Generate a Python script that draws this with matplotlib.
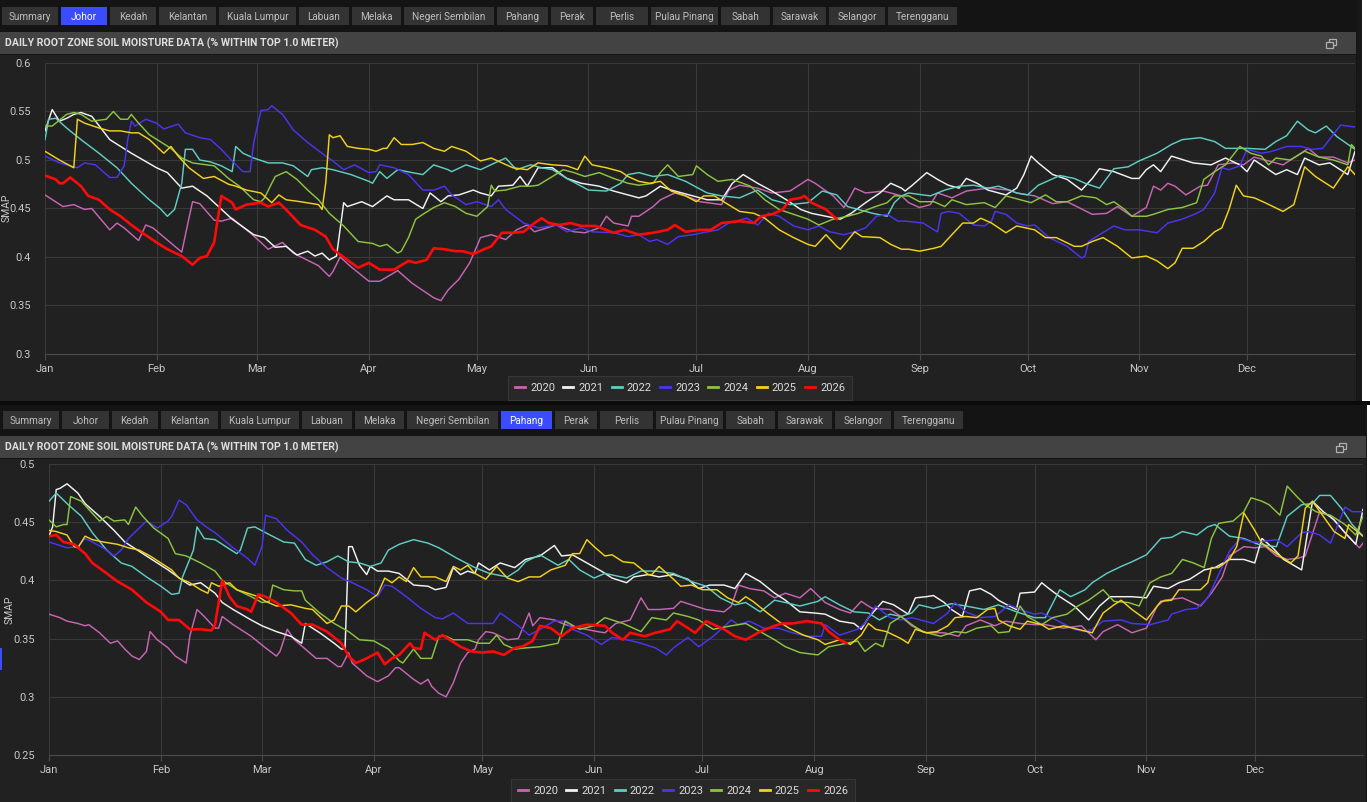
import matplotlib
matplotlib.use("Agg")
import matplotlib.pyplot as plt
from matplotlib.patches import Rectangle
from matplotlib.lines import Line2D

W, H, DPI = 1370, 802, 100

TITLE = "DAILY ROOT ZONE SOIL MOISTURE DATA (% WITHIN TOP 1.0 METER)"
TABS = ["Summary", "Johor", "Kedah", "Kelantan", "Kuala Lumpur", "Labuan", "Melaka",
        "Negeri Sembilan", "Pahang", "Perak", "Perlis", "Pulau Pinang", "Sabah",
        "Sarawak", "Selangor", "Terengganu"]
TAB_WIDTHS = [56, 46, 46, 57, 77, 50, 49, 90, 51, 42, 52, 67, 49, 53, 56, 69]

MONTHS = ["Jan", "Feb", "Mar", "Apr", "May", "Jun", "Jul", "Aug", "Sep", "Oct", "Nov", "Dec"]
MONTH_START = [0, 31, 59, 90, 120, 151, 181, 212, 243, 273, 304, 334]

YEARS = ["2020", "2021", "2022", "2023", "2024", "2025", "2026"]
YEAR_COLORS = ["#c865b4", "#f2f2f2", "#5fcdc2", "#4a35f2", "#8cc43e", "#f2d21c", "#ff0a0a"]

# ---- Johor: (day of year, SMAP) ----
johor_2020 = [(0, .464), (5, .452), (8, .454), (11, .449), (13, .45), (18, .428), (20, .435), (22, .43),
              (26, .417), (28, .433), (30, .43), (38, .405), (40, .44), (41, .457), (43, .455), (47, .438),
              (49, .437), (52, .44), (57, .425), (60, .415), (62, .408), (66, .415), (69, .404), (76, .391),
              (79, .38), (80, .385), (82, .4), (85, .39), (90, .375), (93, .375), (98, .386), (102, .373),
              (108, .358), (110, .355), (112, .366), (115, .377), (118, .394), (120, .411), (121, .42),
              (124, .423), (128, .418), (131, .428), (134, .433), (136, .426), (142, .433), (147, .426),
              (150, .425), (154, .43), (156, .442), (158, .435), (162, .432), (163, .442), (165, .442),
              (169, .452), (171, .459), (175, .466), (178, .463), (182, .457), (188, .454), (190, .469),
              (193, .474), (198, .471), (202, .466), (207, .468), (212, .48), (214, .476), (219, .463),
              (222, .451), (224, .464), (225, .471), (228, .466), (233, .468), (238, .463), (240, .456),
              (243, .451), (246, .454), (248, .466), (252, .461), (256, .468), (262, .471), (268, .469),
              (270, .466), (275, .463), (280, .455), (284, .457), (291, .444), (295, .445), (298, .452),
              (302, .442), (306, .451), (308, .473), (310, .469), (312, .476), (314, .473), (317, .464),
              (321, .473), (323, .474), (326, .495), (330, .497), (333, .495), (336, .503), (339, .5),
              (344, .495), (349, .507), (351, .512), (354, .503), (358, .503), (362, .497), (364, .5)]
johor_2021 = [(0, .53), (2, .552), (4, .54), (6, .543), (8, .547), (10, .549), (13, .545), (18, .521),
              (24, .507), (31, .492), (34, .487), (38, .471), (41, .473), (45, .463), (52, .439), (58, .423),
              (61, .42), (64, .41), (67, .411), (70, .402), (73, .406), (75, .401), (77, .404), (79, .397),
              (81, .401), (83, .456), (84, .452), (88, .457), (91, .452), (95, .463), (97, .459), (101, .459),
              (105, .45), (107, .466), (110, .457), (112, .463), (115, .464), (119, .469), (121, .466),
              (124, .463), (126, .473), (130, .474), (132, .483), (134, .473), (137, .492), (141, .492),
              (145, .481), (149, .476), (154, .473), (158, .468), (162, .464), (165, .461), (167, .463),
              (171, .473), (174, .469), (180, .463), (184, .459), (188, .459), (191, .476), (194, .485),
              (198, .476), (202, .468), (206, .459), (210, .449), (213, .445), (217, .442), (221, .439),
              (224, .445), (228, .456), (232, .466), (235, .476), (238, .471), (239, .468), (241, .474),
              (245, .487), (248, .48), (251, .474), (254, .471), (256, .481), (259, .476), (262, .469),
              (267, .464), (270, .471), (272, .485), (274, .504), (276, .497), (280, .485), (284, .48),
              (288, .469), (291, .481), (293, .491), (297, .488), (302, .481), (304, .481), (306, .49),
              (308, .495), (310, .488), (313, .504), (319, .497), (324, .495), (328, .502), (332, .495),
              (334, .488), (336, .5), (338, .495), (342, .485), (345, .49), (348, .485), (350, .502),
              (354, .495), (357, .497), (362, .485), (364, .509)]
johor_2022 = [(0, .521), (1, .542), (3, .543), (6, .533), (10, .521), (15, .507), (20, .492), (24, .476),
              (29, .459), (32, .45), (34, .442), (36, .449), (38, .476), (39, .511), (41, .511), (43, .5),
              (46, .498), (49, .494), (52, .488), (53, .514), (55, .507), (58, .502), (62, .497), (66, .497),
              (69, .494), (73, .483), (74, .49), (77, .492), (80, .49), (85, .485), (90, .478), (91, .476),
              (93, .488), (95, .481), (98, .49), (102, .487), (105, .485), (108, .495), (112, .49),
              (113, .488), (117, .495), (121, .49), (125, .497), (128, .502), (131, .49), (135, .495),
              (138, .492), (141, .49), (145, .481), (149, .473), (151, .469), (156, .468), (160, .476),
              (162, .485), (165, .487), (169, .483), (173, .485), (178, .478), (184, .466), (188, .463),
              (193, .461), (198, .469), (202, .459), (207, .454), (212, .456), (216, .468), (220, .464),
              (223, .452), (226, .449), (230, .445), (234, .442), (236, .456), (238, .463), (240, .466),
              (246, .463), (250, .469), (254, .473), (258, .474), (262, .471), (265, .473), (270, .466),
              (273, .464), (276, .474), (282, .484), (286, .481), (289, .476), (293, .471), (297, .491),
              (301, .493), (304, .499), (309, .507), (313, .516), (316, .521), (321, .523), (325, .519),
              (328, .512), (334, .512), (339, .511), (342, .519), (345, .525), (348, .54), (351, .531),
              (353, .528), (356, .535), (359, .524), (364, .511)]
johor_2023 = [(0, .504), (4, .497), (9, .492), (11, .497), (14, .495), (18, .482), (20, .482), (22, .494),
              (23, .521), (24, .54), (25, .535), (28, .542), (31, .538), (33, .532), (37, .537), (39, .528),
              (43, .523), (46, .521), (49, .511), (52, .499), (55, .488), (57, .488), (58, .518), (60, .551),
              (62, .552), (63, .556), (66, .547), (69, .531), (73, .518), (78, .504), (80, .499), (83, .49),
              (86, .495), (90, .487), (92, .488), (93, .495), (97, .492), (101, .485), (105, .469),
              (108, .469), (111, .473), (113, .464), (117, .454), (120, .457), (124, .452), (126, .459),
              (128, .449), (133, .435), (137, .43), (142, .433), (145, .426), (149, .43), (152, .426),
              (158, .425), (162, .421), (165, .423), (168, .416), (170, .418), (173, .413), (176, .421),
              (180, .423), (187, .428), (190, .435), (195, .44), (198, .433), (201, .445), (204, .442),
              (208, .432), (212, .428), (215, .432), (218, .426), (222, .423), (225, .426), (228, .43),
              (231, .442), (234, .444), (237, .437), (239, .437), (244, .435), (247, .428), (248, .426),
              (249, .445), (251, .447), (254, .445), (258, .433), (261, .432), (263, .437), (264, .447),
              (267, .444), (270, .435), (273, .432), (275, .433), (279, .42), (284, .411), (288, .399),
              (289, .401), (290, .416), (293, .423), (297, .432), (300, .428), (304, .428), (309, .425),
              (312, .435), (316, .439), (320, .445), (322, .449), (325, .466), (327, .492), (329, .49),
              (332, .494), (334, .511), (338, .507), (341, .509), (345, .514), (349, .514), (352, .511),
              (355, .512), (360, .536), (364, .534)]
johor_2024 = [(0, .535), (2, .535), (6, .547), (8, .549), (10, .547), (13, .54), (17, .542), (19, .55),
              (21, .542), (23, .542), (24, .547), (26, .538), (29, .526), (32, .519), (35, .512), (38, .502),
              (41, .497), (47, .494), (51, .481), (54, .473), (58, .459), (60, .457), (61, .461), (63, .476),
              (64, .483), (67, .488), (70, .48), (73, .469), (76, .459), (79, .445), (83, .432), (87, .416),
              (91, .414), (93, .411), (95, .413), (98, .404), (99, .406), (101, .42), (103, .439),
              (105, .444), (108, .451), (111, .456), (114, .452), (117, .445), (120, .442), (123, .452),
              (124, .474), (125, .468), (128, .469), (132, .473), (135, .473), (137, .474), (141, .483),
              (144, .49), (147, .487), (150, .483), (154, .487), (158, .481), (162, .476), (165, .474),
              (169, .476), (171, .487), (173, .495), (176, .483), (180, .485), (181, .494), (184, .485),
              (187, .478), (191, .48), (196, .473), (200, .459), (204, .449), (208, .444), (212, .439),
              (215, .433), (219, .439), (223, .442), (226, .445), (230, .451), (234, .456), (236, .463),
              (240, .463), (243, .457), (247, .457), (250, .452), (252, .459), (256, .454), (261, .456),
              (264, .451), (267, .463), (271, .459), (274, .456), (278, .464), (281, .457), (284, .457),
              (288, .463), (292, .461), (295, .454), (297, .457), (300, .449), (302, .442), (306, .442),
              (308, .444), (312, .449), (316, .451), (320, .456), (322, .48), (325, .488), (328, .495),
              (332, .514), (335, .507), (338, .504), (340, .495), (342, .502), (346, .5), (350, .509),
              (354, .503), (358, .5), (362, .495), (363, .516), (364, .512)]
johor_2025 = [(0, .509), (4, .5), (8, .492), (9, .542), (11, .538), (15, .533), (18, .53), (21, .53),
              (24, .528), (26, .528), (29, .521), (33, .507), (35, .514), (37, .504), (40, .492), (44, .481),
              (47, .483), (51, .475), (53, .473), (56, .469), (60, .466), (63, .456), (65, .464), (67, .459),
              (71, .457), (76, .454), (77, .449), (78, .476), (79, .526), (80, .523), (82, .525), (84, .514),
              (87, .512), (90, .511), (92, .509), (94, .512), (95, .512), (97, .523), (99, .516), (102, .516),
              (105, .518), (108, .512), (111, .509), (113, .514), (117, .509), (121, .499), (124, .502),
              (127, .497), (130, .492), (134, .49), (137, .497), (141, .495), (145, .494), (148, .49),
              (150, .504), (152, .495), (156, .492), (160, .488), (162, .483), (165, .478), (168, .476),
              (171, .478), (174, .468), (178, .463), (181, .457), (183, .463), (186, .463), (189, .456),
              (193, .447), (197, .445), (200, .44), (204, .428), (208, .42), (212, .413), (214, .411),
              (217, .423), (220, .411), (221, .408), (225, .426), (227, .421), (232, .42), (235, .413),
              (238, .408), (240, .408), (243, .406), (247, .409), (249, .411), (252, .423), (255, .435),
              (258, .435), (260, .44), (263, .435), (267, .425), (270, .432), (275, .428), (278, .42),
              (281, .42), (286, .411), (288, .411), (291, .416), (294, .42), (298, .411), (302, .399),
              (306, .401), (309, .396), (312, .388), (314, .394), (316, .409), (319, .409), (322, .416),
              (325, .426), (327, .43), (329, .449), (331, .474), (333, .463), (336, .461), (339, .456),
              (344, .447), (347, .454), (350, .493), (353, .483), (358, .471), (362, .493), (364, .485)]
johor_2026 = [(0, .484), (3, .48), (4, .476), (5, .476), (7, .482), (10, .473), (12, .463), (15, .459),
              (18, .449), (21, .442), (24, .433), (27, .425), (31, .415), (34, .408), (38, .401), (41, .392),
              (43, .399), (45, .401), (47, .415), (49, .463), (52, .456), (53, .449), (56, .454), (60, .456),
              (62, .452), (65, .456), (68, .445), (71, .433), (75, .428), (78, .421), (80, .408), (84, .397),
              (87, .389), (90, .394), (93, .387), (97, .387), (101, .396), (103, .394), (106, .397),
              (108, .409), (111, .408), (114, .406), (116, .406), (119, .403), (122, .408), (124, .411),
              (127, .425), (130, .425), (133, .426), (136, .435), (138, .44), (140, .435), (143, .433),
              (146, .435), (149, .432), (153, .432), (158, .425), (161, .428), (165, .423), (169, .425),
              (173, .428), (175, .433), (178, .426), (182, .428), (185, .428), (188, .435), (193, .437),
              (197, .435), (199, .442), (202, .444), (205, .449), (207, .459), (210, .461), (211, .463),
              (213, .456), (217, .449), (220, .439)]

# ---- Pahang: (day of year, SMAP) ----
pahang_2020 = [(0, .371), (3, .368), (5, .365), (8, .363), (10, .361), (11, .362), (14, .355), (17, .346),
               (19, .348), (21, .341), (23, .335), (25, .332), (27, .339), (28, .356), (30, .349), (33, .342),
               (35, .335), (38, .329), (39, .352), (41, .375), (43, .369), (46, .359), (47, .359), (48, .369),
               (51, .362), (56, .352), (60, .342), (63, .335), (64, .339), (66, .358), (68, .349), (71, .341),
               (74, .333), (77, .333), (80, .326), (81, .326), (83, .338), (84, .329), (88, .318), (91, .313),
               (94, .318), (96, .325), (97, .325), (101, .315), (103, .311), (105, .315), (106, .309),
               (108, .303), (110, .3), (112, .312), (114, .329), (116, .338), (118, .341), (119, .349),
               (121, .356), (123, .355), (127, .349), (130, .35), (133, .372), (134, .361), (136, .368),
               (140, .366), (143, .362), (147, .359), (152, .356), (154, .355), (157, .363), (161, .366),
               (164, .385), (166, .375), (169, .375), (173, .376), (175, .382), (179, .378), (182, .375),
               (187, .373), (189, .378), (191, .396), (194, .393), (198, .391), (201, .385), (204, .389),
               (208, .385), (211, .393), (215, .381), (219, .375), (222, .372), (225, .382), (228, .376),
               (233, .375), (236, .369), (239, .361), (243, .355), (248, .355), (252, .352), (254, .361),
               (258, .366), (262, .361), (265, .365), (269, .363), (273, .362), (276, .362), (281, .359),
               (286, .361), (290, .349), (292, .356), (296, .362), (300, .355), (304, .359), (307, .378),
               (309, .383), (314, .385), (319, .378), (322, .389), (325, .403), (327, .421), (331, .429),
               (334, .428), (337, .429), (340, .421), (343, .418), (346, .419), (348, .421), (352, .459),
               (355, .455), (359, .441), (363, .428), (364, .432)]
pahang_2021 = [(0, .438), (1, .446), (2, .478), (3, .479), (5, .483), (8, .475), (10, .466), (14, .455),
               (18, .443), (21, .433), (23, .429), (26, .423), (30, .415), (33, .409), (37, .4), (39, .396),
               (42, .398), (46, .389), (48, .381), (51, .375), (56, .366), (59, .361), (63, .356), (67, .352),
               (70, .346), (71, .363), (72, .361), (75, .355), (79, .346), (81, .341), (82, .341), (83, .429),
               (84, .429), (86, .413), (88, .405), (89, .412), (91, .408), (94, .408), (97, .406), (101, .396),
               (105, .395), (107, .392), (110, .394), (112, .411), (114, .405), (116, .408), (118, .406),
               (119, .415), (122, .409), (125, .415), (129, .411), (132, .418), (136, .421), (140, .43),
               (142, .421), (145, .422), (149, .415), (153, .408), (156, .402), (160, .398), (162, .403),
               (166, .405), (169, .403), (173, .405), (177, .401), (180, .393), (183, .396), (187, .396),
               (190, .393), (193, .406), (197, .399), (201, .389), (204, .383), (208, .373), (212, .372),
               (215, .371), (219, .365), (223, .363), (225, .358), (227, .368), (231, .382), (234, .379),
               (236, .375), (238, .371), (240, .385), (243, .386), (245, .387), (248, .381), (250, .375),
               (253, .369), (255, .391), (258, .393), (261, .388), (263, .383), (266, .378), (268, .375),
               (269, .389), (273, .39), (275, .398), (277, .393), (280, .386), (284, .378), (288, .366),
               (291, .378), (294, .386), (300, .386), (304, .385), (306, .395), (310, .393), (313, .398),
               (316, .401), (320, .409), (323, .411), (327, .418), (331, .418), (334, .415), (336, .436),
               (339, .428), (342, .418), (347, .409), (350, .468), (353, .459), (356, .452), (359, .441),
               (362, .431), (364, .461)]
pahang_2022 = [(0, .468), (2, .475), (5, .466), (9, .455), (12, .441), (16, .426), (20, .415), (23, .412),
               (27, .403), (31, .395), (34, .388), (36, .389), (37, .403), (40, .426), (41, .446), (43, .436),
               (46, .435), (49, .429), (52, .423), (53, .426), (55, .445), (57, .446), (60, .441), (65, .433),
               (68, .432), (71, .418), (74, .413), (77, .416), (80, .421), (83, .416), (86, .415), (89, .412),
               (92, .415), (94, .426), (97, .431), (101, .435), (105, .432), (108, .428), (113, .419),
               (118, .411), (122, .406), (127, .403), (130, .409), (132, .416), (136, .422), (141, .413),
               (144, .418), (147, .409), (151, .402), (154, .406), (160, .402), (164, .408), (168, .408),
               (173, .406), (178, .399), (182, .395), (186, .385), (190, .379), (193, .381), (197, .373),
               (201, .383), (204, .381), (208, .378), (213, .382), (215, .386), (219, .379), (223, .373),
               (227, .372), (230, .366), (233, .371), (236, .369), (239, .372), (241, .379), (245, .376),
               (250, .38), (254, .378), (259, .375), (263, .379), (268, .373), (273, .368), (276, .368),
               (280, .392), (283, .386), (287, .392), (289, .398), (293, .406), (297, .412), (300, .416),
               (304, .422), (308, .436), (311, .437), (314, .442), (318, .439), (321, .446), (323, .448),
               (327, .438), (331, .436), (335, .431), (340, .429), (343, .455), (347, .465), (350, .466),
               (352, .473), (355, .473), (358, .462), (361, .448), (364, .438)]
pahang_2023 = [(0, .433), (2, .431), (5, .428), (8, .429), (10, .436), (12, .433), (15, .428), (18, .421),
               (20, .426), (22, .436), (24, .442), (27, .451), (30, .445), (33, .451), (34, .455), (36, .469),
               (38, .465), (41, .452), (44, .445), (46, .441), (51, .428), (55, .419), (57, .413), (59, .429),
               (60, .456), (63, .453), (66, .443), (70, .433), (73, .422), (77, .411), (81, .402), (84, .398),
               (88, .392), (91, .386), (93, .396), (95, .395), (99, .386), (103, .376), (107, .368),
               (109, .367), (112, .372), (116, .363), (119, .363), (123, .363), (125, .372), (130, .361),
               (133, .353), (136, .358), (140, .365), (143, .365), (145, .358), (149, .353), (153, .345),
               (156, .351), (160, .349), (164, .346), (168, .342), (171, .336), (173, .342), (177, .351),
               (180, .343), (184, .352), (189, .366), (191, .362), (194, .365), (198, .359), (202, .359),
               (206, .355), (210, .352), (214, .352), (215, .362), (219, .353), (224, .358), (226, .363),
               (229, .378), (233, .368), (236, .366), (239, .368), (245, .363), (249, .372), (251, .381),
               (254, .373), (258, .368), (262, .369), (266, .379), (269, .375), (273, .371), (275, .372),
               (279, .366), (284, .358), (287, .356), (289, .358), (292, .365), (297, .366), (300, .363),
               (305, .362), (310, .366), (311, .371), (315, .375), (318, .376), (321, .385), (324, .405),
               (327, .425), (330, .436), (333, .433), (335, .433), (340, .435), (343, .429), (347, .441),
               (349, .442), (352, .439), (355, .432), (359, .463), (361, .459), (364, .459)]
pahang_2024 = [(0, .452), (2, .446), (4, .448), (5, .448), (6, .472), (9, .468), (11, .461), (14, .451),
               (16, .455), (18, .451), (21, .452), (22, .448), (24, .463), (26, .455), (29, .445), (33, .436),
               (35, .423), (38, .421), (42, .415), (46, .408), (48, .4), (52, .392), (56, .386), (59, .381),
               (61, .382), (62, .396), (65, .392), (68, .391), (70, .391), (71, .383), (75, .372), (79, .363),
               (83, .356), (86, .349), (90, .348), (94, .341), (97, .331), (98, .329), (101, .341), (103, .333),
               (106, .333), (108, .352), (110, .352), (112, .349), (116, .349), (119, .346), (122, .346),
               (124, .353), (126, .345), (129, .341), (132, .342), (136, .343), (141, .346), (143, .365),
               (147, .358), (151, .361), (154, .368), (159, .363), (164, .356), (167, .368), (171, .366),
               (173, .372), (177, .369), (180, .366), (184, .358), (189, .361), (193, .363), (197, .356),
               (201, .349), (204, .343), (208, .338), (213, .336), (216, .343), (221, .346), (224, .348),
               (226, .339), (229, .346), (231, .343), (233, .363), (236, .369), (239, .362), (242, .356),
               (247, .352), (251, .356), (254, .355), (257, .359), (261, .361), (263, .355), (266, .356),
               (269, .378), (271, .369), (275, .362), (278, .368), (282, .371), (285, .378), (288, .383),
               (292, .392), (295, .382), (299, .381), (302, .378), (305, .398), (308, .403), (311, .406),
               (314, .418), (317, .415), (320, .411), (322, .436), (324, .449), (328, .451), (331, .459),
               (333, .471), (336, .468), (338, .465), (341, .456), (343, .481), (346, .471), (348, .465),
               (351, .459), (355, .456), (359, .448), (362, .439), (364, .455)]
pahang_2025 = [(0, .443), (2, .442), (5, .439), (7, .429), (8, .428), (10, .438), (12, .435), (15, .433),
               (19, .431), (22, .428), (25, .426), (28, .421), (31, .415), (34, .409), (36, .402), (39, .398),
               (42, .392), (44, .389), (45, .398), (47, .395), (50, .398), (52, .392), (55, .389), (58, .386),
               (60, .382), (63, .378), (67, .379), (71, .376), (73, .375), (77, .363), (79, .366), (81, .378),
               (83, .378), (85, .373), (88, .381), (91, .388), (93, .402), (95, .398), (97, .403), (99, .399),
               (101, .411), (103, .403), (107, .403), (110, .399), (112, .412), (114, .409), (116, .413),
               (118, .406), (121, .401), (124, .412), (127, .402), (130, .399), (133, .403), (136, .403),
               (139, .409), (143, .413), (145, .423), (147, .423), (149, .435), (151, .429), (154, .421),
               (156, .422), (159, .416), (162, .415), (166, .405), (167, .405), (169, .412), (173, .401),
               (175, .395), (178, .396), (181, .392), (185, .392), (188, .385), (191, .381), (193, .386),
               (195, .382), (199, .372), (202, .365), (205, .359), (209, .353), (213, .349), (215, .345),
               (219, .349), (222, .345), (225, .353), (227, .363), (229, .358), (232, .356), (236, .35),
               (238, .346), (240, .358), (243, .355), (246, .356), (249, .361), (251, .368), (254, .369),
               (257, .368), (260, .375), (262, .376), (263, .366), (266, .361), (269, .358), (271, .365),
               (275, .362), (277, .358), (281, .361), (285, .358), (289, .355), (292, .372), (295, .379),
               (297, .383), (300, .375), (304, .366), (308, .382), (311, .383), (313, .392), (319, .392),
               (321, .398), (322, .411), (324, .411), (327, .418), (329, .429), (331, .458), (334, .443),
               (336, .432), (340, .423), (344, .415), (346, .421), (348, .462), (350, .468), (353, .455),
               (356, .442), (359, .436), (360, .448), (364, .438)]
pahang_2026 = [(0, .438), (2, .439), (4, .433), (7, .431), (10, .423), (12, .415), (16, .406), (19, .399),
               (23, .392), (27, .381), (31, .373), (33, .366), (36, .366), (39, .358), (42, .358), (45, .357),
               (46, .362), (48, .4), (50, .386), (52, .378), (55, .375), (56, .373), (58, .388), (60, .386),
               (63, .381), (67, .372), (70, .362), (73, .362), (77, .356), (81, .346), (83, .335), (85, .329),
               (88, .333), (91, .338), (93, .328), (95, .333), (97, .336), (100, .346), (101, .342),
               (103, .341), (104, .355), (107, .349), (109, .353), (111, .349), (114, .343), (117, .339),
               (120, .338), (123, .339), (126, .336), (129, .342), (131, .343), (134, .348), (136, .361),
               (139, .359), (142, .352), (145, .359), (149, .362), (154, .361), (156, .355), (159, .349),
               (161, .355), (165, .352), (168, .355), (172, .358), (174, .365), (179, .355), (182, .365),
               (187, .358), (190, .352), (193, .349), (197, .356), (201, .361), (203, .363), (206, .363),
               (210, .365), (214, .363), (216, .356), (219, .349), (221, .346)]

JOHOR = [johor_2020, johor_2021, johor_2022, johor_2023, johor_2024, johor_2025, johor_2026]
PAHANG = [pahang_2020, pahang_2021, pahang_2022, pahang_2023, pahang_2024, pahang_2025, pahang_2026]

FONT = "Roboto"
fig = plt.figure(figsize=(W / DPI, H / DPI), dpi=DPI, facecolor="white")


def box(x, y, w, h, color, ec="none", lw=0, z=-10):
    # pixel box, top-left origin; kept below the axes
    fig.add_artist(Rectangle((x / W, 1 - (y + h) / H), w / W, h / H, transform=fig.transFigure,
                             facecolor=color, edgecolor=ec, lw=lw, zorder=z))


def label(x, y, s, **kw):
    fig.text(x / W, 1 - y / H, s, family=FONT, **kw)


def draw_panel(top, right, scale, active, series, ylim, yticks, plot, legend_xy, smap_xy):
    # screenshot frame
    box(0, top, right, 402 if top == 0 else H - top, "#141414", z=-20)
    # tab strip
    x = 2 + (1 if top else 0)
    for name, w in zip(TABS, TAB_WIDTHS):
        w = w * scale
        on = name == active
        box(x, top + 7, w, 18, "#3b4cff" if on else "#333333")
        label(x + w / 2, top + 16.5, name, ha="center", va="center", fontsize=7.2,
              color="white" if on else "#bdbdbd")
        x += w + 3
    # title bar and chart background
    box(0, top + 32, right - 1, 22, "#434343")
    label(5, top + 43.5, TITLE, ha="left", va="center", fontsize=7.6, fontweight="bold", color="#dedede")
    ix = right - 30
    box(ix + 2, top + 39, 7, 6, "none", ec="#b0b0b0", lw=0.9, z=-5)
    box(ix - 1, top + 42, 7, 6, "#434343", ec="#b0b0b0", lw=0.9, z=-4)
    box(0, top + 55, right - 1, 347 if top == 0 else H - top - 55, "#212121")

    left, ptop, pright, pbottom = plot
    ax = fig.add_axes([left / W, 1 - pbottom / H, (pright - left) / W, (pbottom - ptop) / H])
    ax.set_facecolor("#212121")
    for i, pts in enumerate(series):
        days = [p[0] for p in pts]
        vals = [p[1] for p in pts]
        ax.plot(days, vals, color=YEAR_COLORS[i], lw=1.9 if i == 6 else 1.05,
                solid_joinstyle="round", zorder=3 + i)
    ax.set_xlim(0, 364)
    ax.set_ylim(*ylim)
    ax.set_xticks(MONTH_START)
    ax.set_xticklabels(MONTHS)
    ax.set_yticks(yticks)
    ax.set_yticklabels([f"{t:g}" for t in yticks])
    ax.grid(True, color="#393939", lw=0.8)
    ax.set_axisbelow(True)
    for s in ("top", "right", "left"):
        ax.spines[s].set_visible(False)
    ax.spines["bottom"].set_color("#4a4a4a")
    ax.tick_params(axis="x", length=4, width=0.8, color="#4a4a4a", pad=3, labelsize=8, labelcolor="#c8c8c8")
    ax.tick_params(axis="y", length=0, pad=10, labelsize=8, labelcolor="#c8c8c8")
    for t in ax.get_xticklabels() + ax.get_yticklabels():
        t.set_family(FONT)
    label(smap_xy[0], smap_xy[1], "SMAP", rotation=90, ha="center", va="center", fontsize=7.5, color="#c8c8c8")

    handles = [Line2D([], [], color=c, lw=2) for c in YEAR_COLORS]
    leg = fig.legend(handles, YEARS, loc="center", bbox_to_anchor=(legend_xy[0] / W, 1 - legend_xy[1] / H),
                     ncol=7, frameon=True, facecolor="#2b2b2b", edgecolor="#3d3d3d",
                     labelcolor="#dddddd", handlelength=0.9, handletextpad=0.45, columnspacing=0.75,
                     borderpad=0.6, prop={"family": FONT, "size": 8})
    leg.get_frame().set_linewidth(0.8)
    leg.get_frame().set_boxstyle("square", pad=0)


draw_panel(0, 1357, 1.0, "Johor", JOHOR, (0.3, 0.6), [0.3, 0.35, 0.4, 0.45, 0.5, 0.55, 0.6],
           (45, 63, 1355, 354), (680, 388), (7, 208))
box(1357, 0, 5, 402, "#181818")
box(0, 401, W, 4, "#0b0b0b")
draw_panel(404, 1367, 1.006, "Pahang", PAHANG, (0.25, 0.5), [0.25, 0.3, 0.35, 0.4, 0.45, 0.5],
           (49, 464, 1363, 755), (683, 791), (10, 610))
box(0, 648, 2, 22, "#3b4cff")

fig.savefig("out.png", dpi=DPI, facecolor=fig.get_facecolor())
